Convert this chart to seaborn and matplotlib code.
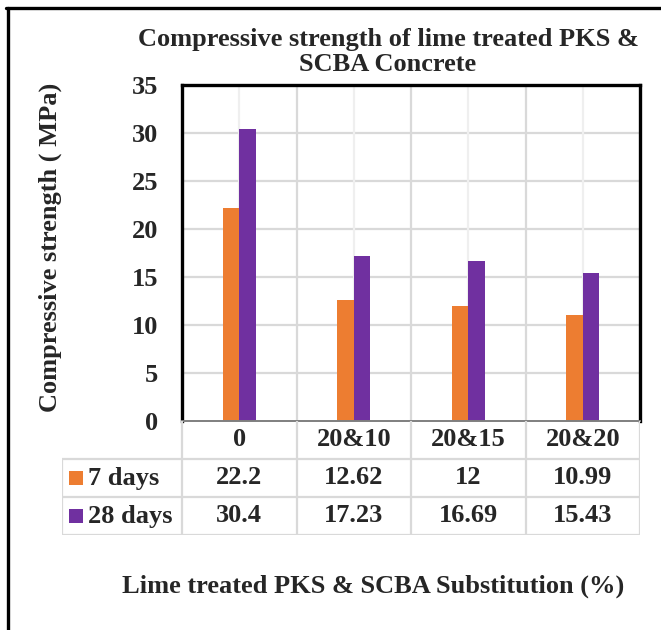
import matplotlib
matplotlib.use("Agg")
import matplotlib.pyplot as plt
from matplotlib.lines import Line2D
import seaborn as sns
import pandas as pd

# Data
categories = ["0", "20&10", "20&15", "20&20"]
series_names = ["7 days", "28 days"]
strength_7d = [22.2, 12.62, 12, 10.99]
strength_28d = [30.4, 17.23, 16.69, 15.43]
value_labels_7d = ["22.2", "12.62", "12", "10.99"]
value_labels_28d = ["30.4", "17.23", "16.69", "15.43"]
y_ticks = [0, 5, 10, 15, 20, 25, 30, 35]

colors = {"7 days": "#ED7D31", "28 days": "#7030A0"}

df = pd.DataFrame({
    "mix": categories * 2,
    "age": ["7 days"] * 4 + ["28 days"] * 4,
    "strength": strength_7d + strength_28d,
})

sns.set_theme(style="white")
plt.rcParams["font.family"] = ["Liberation Serif", "DejaVu Serif"]
plt.rcParams["font.weight"] = "bold"

W, H = 661, 630
fig = plt.figure(figsize=(W / 100, H / 100), dpi=100)
fig.patch.set_facecolor("white")

# plot area in pixels
px_left, px_right, px_top, px_bottom = 182, 640, 85, 421
ax = fig.add_axes([px_left / W, 1 - px_bottom / H,
                   (px_right - px_left) / W, (px_bottom - px_top) / H])

sns.barplot(data=df, x="mix", y="strength", hue="age", order=categories,
            hue_order=series_names, palette=colors, width=0.29,
            saturation=1, ax=ax, legend=False, linewidth=0)

ax.set_xlim(-0.5, len(categories) - 0.5)
ax.set_ylim(0, 35)
ax.set_yticks(y_ticks)
ax.set_yticklabels([str(t) for t in y_ticks], fontsize=19, fontweight="bold")
ax.tick_params(axis="y", length=0, pad=17)
ax.set_xticks([])
ax.set_xlabel("")
ax.set_ylabel("")

# gridlines
for t in y_ticks[1:-1]:
    ax.axhline(t, color="#d9d9d9", lw=1.6, zorder=0)
for i in range(len(categories)):
    ax.axvline(i, color="#efefef", lw=1.6, zorder=0)
for i in range(1, len(categories)):
    ax.axvline(i - 0.5, color="#d9d9d9", lw=1.6, zorder=0)

for side in ["left", "top", "right"]:
    ax.spines[side].set_color("black")
    ax.spines[side].set_linewidth(2.4)
ax.spines["bottom"].set_color("#7f7f7f")
ax.spines["bottom"].set_linewidth(1.4)

# data table beneath the plot area
tbl_left, row_h = 62, 38
cat_px = (px_right - px_left) / len(categories)
tax = fig.add_axes([tbl_left / W, 1 - (px_bottom + 3 * row_h) / H,
                    (px_right - tbl_left) / W, 3 * row_h / H])
x0 = -0.5 - (px_left - tbl_left) / cat_px
tax.set_xlim(x0, len(categories) - 0.5)
tax.set_ylim(3, 0)
tax.axis("off")

grid_c, grid_w = "#d9d9d9", 1.6
for b in [i - 0.5 for i in range(len(categories) + 1)]:
    tax.plot([b, b], [0, 3], color=grid_c, lw=grid_w, solid_capstyle="butt")
tax.plot([x0, x0], [1, 3], color=grid_c, lw=grid_w, solid_capstyle="butt")
for r in [1, 2, 3]:
    tax.plot([x0, len(categories) - 0.5], [r, r], color=grid_c, lw=grid_w,
             solid_capstyle="butt")

fs_table = 19
for i, c in enumerate(categories):
    tax.text(i, 0.5, c, ha="center", va="center", fontsize=fs_table, fontweight="bold")
for row, labels in zip([1, 2], [value_labels_7d, value_labels_28d]):
    for i, lab in enumerate(labels):
        tax.text(i, row + 0.5, lab, ha="center", va="center",
                 fontsize=fs_table, fontweight="bold")
for row, name in zip([1, 2], series_names):
    tax.scatter([x0 + 0.12], [row + 0.5], marker="s", s=100, color=colors[name],
                linewidths=0, clip_on=False)
    tax.text(x0 + 0.225, row + 0.5, name, ha="left", va="center",
             fontsize=fs_table, fontweight="bold")

# titles and axis labels
fig.text(388 / W, 1 - 28 / H, "Compressive strength of lime treated PKS &\nSCBA Concrete",
         ha="center", va="top", fontsize=19, fontweight="bold", linespacing=1.12)
fig.text(50 / W, 1 - 247 / H, "Compressive strength ( MPa)", rotation=90,
         ha="center", va="center", fontsize=19, fontweight="bold")
fig.text(373 / W, 1 - 586 / H, "Lime treated PKS & SCBA Substitution (%)",
         ha="center", va="center", fontsize=19, fontweight="bold")

# outer frame lines (left and top)
fig.add_artist(Line2D([7.5 / W, 7.5 / W], [0, 1 - 8 / H], color="black", lw=2.4,
                      transform=fig.transFigure))
fig.add_artist(Line2D([6 / W, 1], [1 - 8 / H, 1 - 8 / H], color="black", lw=2.4,
                      transform=fig.transFigure))

fig.savefig("out.png", dpi=100)
